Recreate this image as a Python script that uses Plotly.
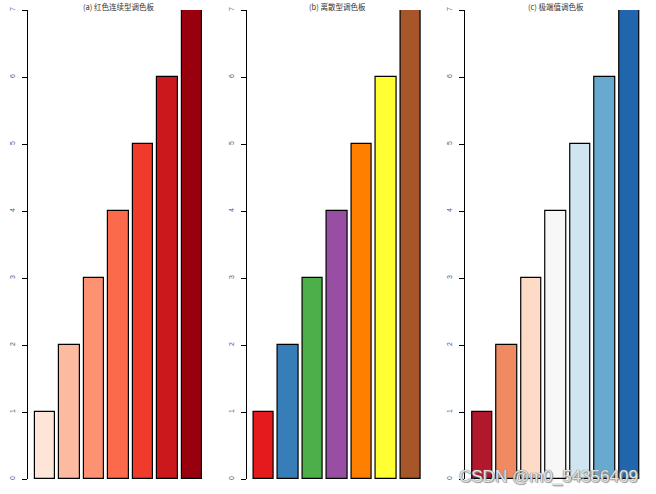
import plotly.graph_objects as go

# bar heights, same for the three panels
values = [1, 2, 3, 4, 5, 6, 7]
positions = [1, 2, 3, 4, 5, 6, 7]

titles = ["(a) 红色连续型调色板", "(b) 离散型调色板", "(c) 极端值调色板"]

reds_7 = ["#FEE5D9", "#FCBBA1", "#FC9272", "#FB6A4A", "#EF3B2C", "#CB181D", "#99000D"]
set1_7 = ["#E41A1C", "#377EB8", "#4DAF4A", "#984EA3", "#FF7F00", "#FFFF33", "#A65628"]
rdbu_7 = ["#B2182B", "#EF8A62", "#FDDBC7", "#F7F7F7", "#D1E5F0", "#67A9CF", "#2166AC"]
palettes = [reds_7, set1_7, rdbu_7]

W, H = 656, 494
panel_w = W / 3

fig = go.Figure()

for i, (title, cols) in enumerate(zip(titles, palettes)):
    n = i + 1
    x0 = (panel_w * i + 28) / W
    x1 = (panel_w * i + 209) / W
    fig.add_trace(go.Bar(
        x=positions, y=values, width=0.833,
        marker=dict(color=cols, line=dict(color="black", width=1.2)),
        xaxis="x" if n == 1 else f"x{n}",
        yaxis="y" if n == 1 else f"y{n}",
        showlegend=False,
    ))
    fig.layout[f"xaxis{'' if n == 1 else n}"] = dict(
        domain=[x0, x1], range=[0.306, 7.694], visible=False,
        anchor="y" if n == 1 else f"y{n}", automargin=False,
    )
    fig.layout[f"yaxis{'' if n == 1 else n}"] = dict(
        domain=[15 / H, 484 / H], range=[0, 7],
        anchor="x" if n == 1 else f"x{n}", automargin=False,
        showline=True, linecolor="black", linewidth=1.2,
        ticks="outside", ticklen=5, tickwidth=1.2, tickcolor="black",
        tickvals=list(range(8)), tickangle=-90,
        tickfont=dict(size=7, color="#55558a", family="Liberation Sans"),
        ticklabelstandoff=4,
        showgrid=False, zeroline=False,
    )
    fig.add_annotation(
        x=(x0 + x1) / 2, y=(H - 6) / H, xref="paper", yref="paper",
        text=title, showarrow=False, xanchor="center", yanchor="middle",
        font=dict(size=7.5, color="#333333", family="Noto Sans CJK SC"),
    )

# watermark from the source image
fig.add_annotation(
    x=640 / W, y=(H - 476) / H, xref="paper", yref="paper",
    text="CSDN @m0_54356409", showarrow=False, xanchor="right", yanchor="middle",
    font=dict(size=17, color="rgba(235,235,235,0.95)", family="Liberation Sans",
              shadow="0 0 1px #777, 0 0 1px #777, 1px 1px 1px #999"),
)

fig.update_layout(
    width=W, height=H,
    margin=dict(l=0, r=0, t=0, b=0, autoexpand=False),
    paper_bgcolor="white", plot_bgcolor="white",
    bargap=0,
)

# page body has a default 8px margin; drop it so the figure fills the window
fig.write_html("out.html", config={"displayModeBar": False},
               post_script="document.body.style.margin='0';")
